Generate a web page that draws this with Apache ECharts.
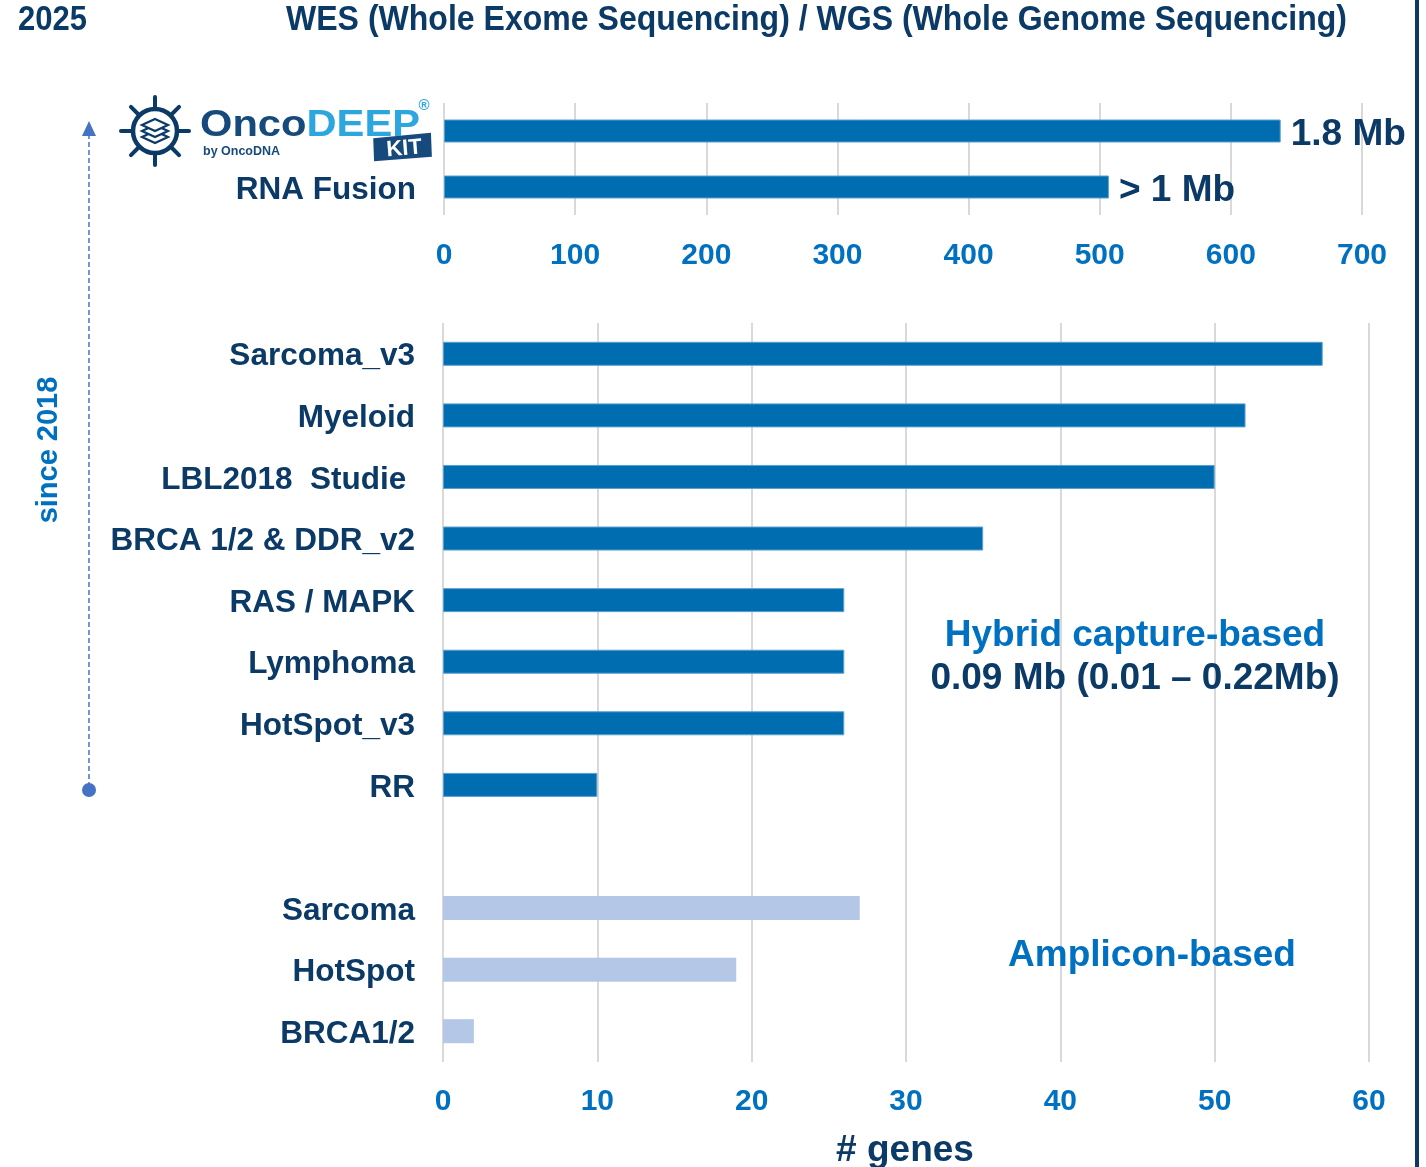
<!DOCTYPE html>
<html>
<head>
<meta charset="utf-8">
<script src="https://cdn.jsdelivr.net/npm/echarts@6/dist/echarts.min.js"></script>
<style>
html,body{margin:0;padding:0;background:#fff;}
#chart{width:1426px;height:1167px;}
</style>
</head>
<body>
<div id="chart"></div>
<script>
// ---------- DATA ----------
const YEAR = '2025';
const TITLE = 'WES (Whole Exome Sequencing) / WGS (Whole Genome Sequencing)';
const topCategories = ['OncoDEEP KIT', 'RNA Fusion'];
const topValues = [638, 507];
const topLabels = ['1.8 Mb', '> 1 Mb'];
const bottomCategories = ['Sarcoma_v3', 'Myeloid', 'LBL2018  Studie ', 'BRCA 1/2 & DDR_v2', 'RAS / MAPK', 'Lymphoma', 'HotSpot_v3', 'RR', '', 'Sarcoma', 'HotSpot', 'BRCA1/2'];
const hybridValues = [57, 52, 50, 35, 26, 26, 26, 10, null, null, null, null];
const ampliconValues = [null, null, null, null, null, null, null, null, null, 27, 19, 2];
const hybridTitle = 'Hybrid capture-based';
const hybridSub = '0.09 Mb (0.01 \u2013 0.22Mb)';
const ampliconTitle = 'Amplicon-based';
const xTitle = '# genes';
const sinceText = 'since 2018';

// ---------- STYLE ----------
const FONT = '"Liberation Sans", Arial, Helvetica, sans-serif';
const NAVY = '#0b3a67';
const BLUE = '#0070c0';
const BAR = '#006db0';
const BAR_LIGHT = '#b4c7e7';
const GRID = '#d9d9d9';
const ARROW = '#4472c4';

function textWidth(txt, font) {
  const c = document.createElement('canvas').getContext('2d');
  c.font = font;
  return c.measureText(txt).width;
}
const titleFont = 'bold 35px ' + FONT;
const titleScale = 1061 / textWidth(TITLE, titleFont);
const yearScale = 69 / textWidth(YEAR, titleFont);
const logoFont = 'bold 36px ' + FONT;
const logoScale = 220 / textWidth('OncoDEEP', logoFont);

const chart = echarts.init(document.getElementById('chart'), null, {renderer: 'canvas'});

function txt(x, y, text, size, color, align, extra) {
  return Object.assign({
    type: 'text', x: x, y: y, silent: true, z: 100,
    style: {text: text, font: 'bold ' + size + 'px ' + FONT, fill: color,
      textAlign: align || 'center', align: align || 'center',
      textVerticalAlign: 'middle', verticalAlign: 'middle'}
  }, extra || {});
}

// gear logo
const gc = [155, 131];
const gearEls = [];
gearEls.push({type: 'circle', shape: {cx: gc[0], cy: gc[1], r: 22}, style: {fill: 'none', stroke: NAVY, lineWidth: 4.5}});
for (let i = 0; i < 8; i++) {
  const a = i * Math.PI / 4;
  const c = Math.cos(a), s = Math.sin(a);
  gearEls.push({type: 'line', shape: {x1: gc[0] + c * 24, y1: gc[1] + s * 24, x2: gc[0] + c * 34, y2: gc[1] + s * 34},
    style: {stroke: NAVY, lineWidth: 4, lineCap: 'round'}});
}
for (let k = 0; k < 3; k++) {
  const cy = gc[1] - 6 + k * 6;
  gearEls.push({type: 'polygon', shape: {points: [[gc[0] - 13, cy], [gc[0], cy - 6], [gc[0] + 13, cy], [gc[0], cy + 6]]},
    style: {fill: '#fff', stroke: NAVY, lineWidth: 2.2}, z: 10 - k});
}

const catRich = {c: {color: NAVY, fontWeight: 'bold', fontSize: 31.5, fontFamily: FONT, padding: [6, 0, 0, 0]}};
const valRich = {v: {color: NAVY, fontWeight: 'bold', fontSize: 37, fontFamily: FONT, padding: [7, 0, 0, 0]}};

const option = {
  animation: false,
  backgroundColor: '#fff',
  textStyle: {fontFamily: FONT},
  grid: [
    {left: 444, right: 64, top: 103, height: 112, containLabel: false},
    {left: 443, right: 57, top: 323, height: 739, containLabel: false}
  ],
  xAxis: [
    {gridIndex: 0, type: 'value', min: 0, max: 700, interval: 100,
      axisLine: {show: false}, axisTick: {show: false},
      splitLine: {show: true, lineStyle: {color: GRID, width: 2}},
      axisLabel: {margin: 26, color: BLUE, fontWeight: 'bold', fontSize: 30, fontFamily: FONT}},
    {gridIndex: 1, type: 'value', min: 0, max: 60, interval: 10,
      axisLine: {show: false}, axisTick: {show: false},
      splitLine: {show: true, lineStyle: {color: GRID, width: 2}},
      axisLabel: {margin: 25, color: BLUE, fontWeight: 'bold', fontSize: 30, fontFamily: FONT}}
  ],
  yAxis: [
    {gridIndex: 0, type: 'category', inverse: true, data: topCategories,
      axisLine: {show: false}, axisTick: {show: false},
      axisLabel: {margin: 28, rich: catRich,
        formatter: function (v, i) { return i === 0 ? '' : '{c|' + v + '}'; }}},
    {gridIndex: 1, type: 'category', inverse: true, data: bottomCategories,
      axisLine: {show: false}, axisTick: {show: false},
      axisLabel: {margin: 28, interval: 0, rich: catRich,
        formatter: function (v) { return v === '' ? '' : '{c|' + v + '}'; }}}
  ],
  series: [
    {type: 'bar', xAxisIndex: 0, yAxisIndex: 0, data: topValues, barWidth: 23,
      itemStyle: {color: BAR, borderColor: '#5a9fd2', borderWidth: 1},
      label: {show: true, position: 'right', distance: 10, rich: valRich,
        formatter: function (p) { return '{v|' + topLabels[p.dataIndex] + '}'; }}},
    {type: 'bar', xAxisIndex: 1, yAxisIndex: 1, data: hybridValues, barWidth: 24, barGap: '-100%',
      itemStyle: {color: BAR, borderColor: '#5a9fd2', borderWidth: 1}},
    {type: 'bar', xAxisIndex: 1, yAxisIndex: 1, data: ampliconValues, barWidth: 24, barGap: '-100%',
      itemStyle: {color: BAR_LIGHT}}
  ],
  graphic: [
    // right border line
    {type: 'rect', shape: {x: 1415, y: 0, width: 4, height: 1167}, style: {fill: NAVY}, silent: true},
    txt(18, 20, YEAR, 35, NAVY, 'left', {scaleX: yearScale}),
    txt(286, 20, TITLE, 35, NAVY, 'left', {scaleX: titleScale}),
    // logo
    {type: 'group', silent: true, children: gearEls},
    {type: 'text', x: 200, y: 126, scaleX: logoScale, silent: true, z: 100,
      style: {text: '{a|Onco}{b|DEEP}', font: logoFont, textAlign: 'left', align: 'left', textVerticalAlign: 'middle', verticalAlign: 'middle',
        rich: {a: {fill: '#174a7c', color: '#174a7c', font: logoFont}, b: {fill: '#2ba6de', color: '#2ba6de', font: logoFont}}}},
    txt(424, 106, '\u00ae', 15, '#2ba6de', 'center'),
    txt(203, 152, 'by OncoDNA', 12.5, '#174a7c', 'left'),
    {type: 'group', x: 402, y: 147, rotation: 0.08, silent: true, z: 100, children: [
      {type: 'polygon', shape: {points: [[-28, -11], [30, -12], [29, 12], [-29, 12]]}, style: {fill: '#174a7c'}},
      txt(2, 2, 'KIT', 22, '#fff', 'center')
    ]},
    // since 2018 arrow
    {type: 'line', shape: {x1: 89, y1: 134, x2: 89, y2: 786}, style: {stroke: ARROW, lineWidth: 1.5, lineDash: [5, 3]}, silent: true},
    {type: 'polygon', shape: {points: [[89, 121], [96, 136], [82, 136]]}, style: {fill: ARROW}, silent: true},
    {type: 'circle', shape: {cx: 89, cy: 790, r: 7}, style: {fill: ARROW}, silent: true},
    txt(49, 450, sinceText, 29, BLUE, 'center', {rotation: Math.PI / 2}),
    // annotations
    txt(1135, 636, hybridTitle, 37, BLUE, 'center'),
    txt(1135, 679, hybridSub, 37, NAVY, 'center'),
    txt(1152, 956, ampliconTitle, 37, BLUE, 'center'),
    txt(905, 1151, xTitle, 37, NAVY, 'center')
  ]
};
chart.setOption(option);
</script>
</body>
</html>
